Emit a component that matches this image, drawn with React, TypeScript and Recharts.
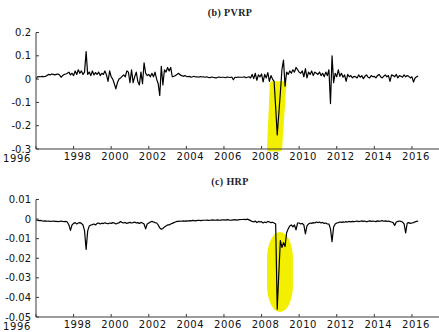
import React from 'react';
import { LineChart, Line, XAxis, YAxis, ReferenceArea } from 'recharts';

// Monthly observations, starting January 1996
const startYear = 1996;
const yearTicks = [1996, 1998, 2000, 2002, 2004, 2006, 2008, 2010, 2012, 2014, 2016];
const pvrpTicks = [-0.3, -0.2, -0.1, 0, 0.1, 0.2];
const hrpTicks = [-0.05, -0.04, -0.03, -0.02, -0.01, 0, 0.01];

const pvrp = [
  0.000, 0.010, 0.011, 0.010, 0.012, 0.010, 0.012, 0.015, 0.020, 0.018, 0.022, 0.020,
  0.018, 0.020, 0.022, 0.018, 0.008, 0.015, 0.020, 0.022, 0.025, 0.030, 0.018, 0.025,
  0.015, 0.035, 0.020, 0.040, 0.025, 0.035, 0.020, 0.030, 0.118, 0.020, 0.030, 0.015,
  0.035, 0.018, 0.028, 0.020, 0.030, 0.015, 0.025, 0.020, 0.035, 0.018, -0.010, 0.035,
  0.010, 0.000, -0.020, -0.042, -0.015, 0.000, 0.005, 0.012, 0.018, 0.010, 0.035, 0.030,
  -0.015, 0.040, -0.015, 0.010, 0.030, -0.010, -0.025, 0.030, -0.020, 0.070, 0.025, 0.015,
  0.020, 0.010, 0.025, 0.010, 0.030, 0.000, -0.020, -0.070, 0.055, -0.025, 0.040, 0.030,
  0.050, 0.035, 0.050, 0.010, 0.012, 0.015, 0.020, 0.025, 0.018, 0.015, 0.012, 0.015,
  0.012, 0.010, 0.012, 0.008, 0.010, 0.012, 0.009, 0.010, 0.008, 0.011, 0.009, 0.010,
  0.008, 0.010, 0.007, 0.006, 0.009, 0.008, 0.006, 0.005, 0.008, 0.009, 0.007, 0.008,
  0.008, 0.006, 0.009, 0.008, 0.007, 0.009, -0.003, 0.008, 0.007, 0.009, 0.008, 0.008,
  0.008, 0.010, 0.006, 0.008, 0.010, 0.005, 0.020, 0.002, 0.025, -0.005, 0.018, 0.010,
  0.022, -0.012, 0.020, 0.005, 0.028, -0.010, 0.015, 0.000, -0.010, -0.120, -0.240, -0.150,
  -0.060, 0.040, 0.082, -0.030, 0.030, 0.020, 0.035, 0.025, 0.040, 0.030, 0.050, 0.040,
  0.030, 0.025, 0.035, 0.010, 0.045, 0.005, 0.030, 0.020, 0.035, 0.015, 0.030, 0.025,
  0.020, 0.030, 0.015, 0.025, 0.010, 0.030, 0.015, 0.040, -0.105, 0.100, -0.015, 0.025,
  0.010, 0.040, 0.012, 0.025, 0.008, 0.018, -0.010, 0.020, 0.010, 0.015, 0.005, 0.012,
  0.010, 0.005, 0.018, 0.008, 0.015, 0.002, 0.012, 0.018, 0.008, 0.005, 0.015, 0.010,
  0.012, 0.005, 0.015, 0.020, 0.010, 0.005, 0.012, 0.018, 0.010, 0.015, -0.010, 0.018,
  0.015, 0.010, 0.020, 0.005, 0.015, 0.012, 0.008, 0.018, 0.010, 0.015, 0.012, 0.005,
  0.010, -0.013, 0.005, 0.010, 0.013,
];

const hrp = [
  -0.0005, -0.0006, -0.0008, -0.0007, -0.0009, -0.0010, -0.0009, -0.0011, -0.0010, -0.0012, -0.0011, -0.0010,
  -0.0012, -0.0011, -0.0013, -0.0012, -0.0010, -0.0012, -0.0013, -0.0012, -0.0015, -0.0030, -0.0058, -0.0030,
  -0.0022, -0.0018, -0.0025, -0.0020, -0.0018, -0.0022, -0.0030, -0.0060, -0.0155, -0.0060, -0.0035, -0.0030,
  -0.0028, -0.0025, -0.0030, -0.0022, -0.0020, -0.0025, -0.0021, -0.0023, -0.0019, -0.0022, -0.0024, -0.0020,
  -0.0022, -0.0018, -0.0020, -0.0025, -0.0021, -0.0019, -0.0012, -0.0018, -0.0020, -0.0017, -0.0022, -0.0019,
  -0.0017, -0.0020, -0.0018, -0.0015, -0.0020, -0.0018, -0.0022, -0.0017, -0.0020, -0.0025, -0.0050, -0.0025,
  -0.0020, -0.0015, -0.0012, -0.0015, -0.0018, -0.0020, -0.0030, -0.0045, -0.0052, -0.0048, -0.0040, -0.0035,
  -0.0030, -0.0030, -0.0025, -0.0022, -0.0018, -0.0015, -0.0012, -0.0012, -0.0010, -0.0011, -0.0009, -0.0010,
  -0.0009, -0.0010, -0.0008, -0.0009, -0.0007, -0.0008, -0.0009, -0.0007, -0.0006, -0.0008, -0.0007, -0.0006,
  -0.0006, -0.0005, -0.0007, -0.0006, -0.0005, -0.0004, -0.0006, -0.0005, -0.0004, -0.0006, -0.0005, -0.0004,
  -0.0004, -0.0005, -0.0003, -0.0004, -0.0006, -0.0005, -0.0004, -0.0003, -0.0005, -0.0004, -0.0003, -0.0002,
  -0.0002, -0.0001, -0.0003, 0.0000, -0.0004, -0.0008, -0.0012, -0.0015, -0.0010, -0.0018, -0.0012, -0.0015,
  -0.0013, -0.0020, -0.0015, -0.0018, -0.0012, -0.0015, -0.0018, -0.0016, -0.0020, -0.0025, -0.0460, -0.0280,
  -0.0110, -0.0145, -0.0120, -0.0140, -0.0070, -0.0050, -0.0035, -0.0030, -0.0040, -0.0030, -0.0055, -0.0020,
  -0.0020, -0.0025, -0.0022, -0.0030, -0.0075, -0.0035, -0.0025, -0.0020, -0.0022, -0.0018, -0.0020, -0.0015,
  -0.0018, -0.0015, -0.0020, -0.0017, -0.0022, -0.0020, -0.0025, -0.0025, -0.0050, -0.0115, -0.0040, -0.0025,
  -0.0020, -0.0018, -0.0015, -0.0017, -0.0014, -0.0016, -0.0013, -0.0015, -0.0012, -0.0014, -0.0012, -0.0013,
  -0.0012, -0.0010, -0.0013, -0.0011, -0.0009, -0.0012, -0.0010, -0.0014, -0.0011, -0.0009, -0.0012, -0.0010,
  -0.0011, -0.0013, -0.0009, -0.0012, -0.0010, -0.0008, -0.0011, -0.0009, -0.0012, -0.0010, -0.0013, -0.0015,
  -0.0018, -0.0033, -0.0015, -0.0012, -0.0010, -0.0012, -0.0015, -0.0025, -0.0070, -0.0020, -0.0018, -0.0022,
  -0.0020, -0.0018, -0.0014, -0.0012, -0.0010,
];

const pvrpData = pvrp.map((v, i) => ({ date: startYear + i / 12, v }));
const hrpData = hrp.map((v, i) => ({ date: startYear + i / 12, v }));

const X_DOMAIN: [number, number] = [1996, 2017.44];
const AXIS = '#3a3a3a';
const HILITE = '#f2f000';
const tickFont = { fontFamily: 'DejaVu Sans', fontSize: 10, fill: '#111' };

const XTick = (props: any) => {
  const { x, y, payload } = props;
  const first = payload.value === 1996;
  const dx = first ? -19 : 4;
  return (
    <text x={x + dx} y={y + (first ? 2 : 0)} dy="0.71em" textAnchor="middle" {...tickFont} letterSpacing={0.6}>
      {payload.value}
    </text>
  );
};

const slantShape = (p: any) => {
  const { x, y, width: w, height: h } = p;
  const d = `M${x + w * 0.2},${y} L${x + w},${y} L${x + w * 0.7},${y + h} L${x},${y + h} Z`;
  return <path d={d} fill={HILITE} stroke={HILITE} strokeWidth={5} strokeLinejoin="round" />;
};

const blobShape = (p: any) => {
  const { x, y, width: w, height: h } = p;
  return <rect x={x} y={y} width={w} height={h} rx={w / 2} ry={h / 3} fill={HILITE} />;
};

const titleStyle: React.CSSProperties = {
  position: 'absolute',
  left: 0,
  width: 460,
  textAlign: 'center',
  fontFamily: 'Liberation Serif',
  fontWeight: 'bold',
  fontSize: 10,
  letterSpacing: 0.4,
  lineHeight: '12px',
  color: '#222',
};

function Panel(props: {
  data: { date: number; v: number }[];
  ticks: number[];
  domain: [number, number];
  top: number;
  xHeight: number;
  children?: React.ReactNode;
}) {
  return (
    <LineChart
      width={439}
      height={166}
      data={props.data}
      margin={{ top: props.top, right: 0, bottom: 0, left: 0 }}
    >
      <XAxis
        xAxisId="top"
        orientation="top"
        dataKey="date"
        type="number"
        domain={X_DOMAIN}
        ticks={yearTicks}
        interval={0}
        height={0}
        allowDataOverflow
        tickSize={-3}
        tickFormatter={() => ''}
        stroke={AXIS}
        axisLine={{ stroke: AXIS, strokeWidth: 1 }}
        tickLine={{ stroke: AXIS }}
      />
      <XAxis
        dataKey="date"
        type="number"
        domain={X_DOMAIN}
        ticks={yearTicks}
        interval={0}
        height={props.xHeight}
        allowDataOverflow
        tickSize={-3}
        tickMargin={7}
        tick={<XTick />}
        axisLine={{ stroke: AXIS, strokeWidth: 1 }}
        tickLine={{ stroke: AXIS }}
      />
      <YAxis
        type="number"
        domain={props.domain}
        ticks={props.ticks}
        interval={0}
        width={36}
        allowDataOverflow
        tickSize={-3}
        tickMargin={8}
        tickFormatter={(v: number) => String(v)}
        tick={tickFont}
        axisLine={{ stroke: AXIS, strokeWidth: 1 }}
        tickLine={{ stroke: AXIS }}
      />
      {props.children}
      <Line
        dataKey="v"
        stroke="#000"
        strokeWidth={1.2}
        dot={false}
        isAnimationActive={false}
        strokeLinejoin="round"
      />
    </LineChart>
  );
}

export default function App() {
  return (
    <div style={{ position: 'absolute', left: 0, top: 0, width: 439, height: 332, background: '#fff', overflow: 'hidden' }}>
      <div style={{ ...titleStyle, top: 7 }}>(b) PVRP</div>
      <div style={{ ...titleStyle, top: 176 }}>(c) HRP</div>
      <div style={{ position: 'absolute', left: 0, top: 0 }}>
        <Panel data={pvrpData} ticks={pvrpTicks} domain={[-0.3, 0.2]} top={32.5} xHeight={17}>
          <ReferenceArea
            x1={2008.42}
            x2={2009.19}
            y1={-0.3}
            y2={-0.02}
            ifOverflow="visible"
            shape={slantShape}
          />
        </Panel>
      </div>
      <div style={{ position: 'absolute', left: 0, top: 166 }}>
        <Panel data={hrpData} ticks={hrpTicks} domain={[-0.05, 0.01]} top={33.5} xHeight={15}>
          <ReferenceArea
            x1={2008.29}
            x2={2009.67}
            y1={-0.0475}
            y2={-0.0066}
            ifOverflow="visible"
            shape={blobShape}
          />
        </Panel>
      </div>
    </div>
  );
}
